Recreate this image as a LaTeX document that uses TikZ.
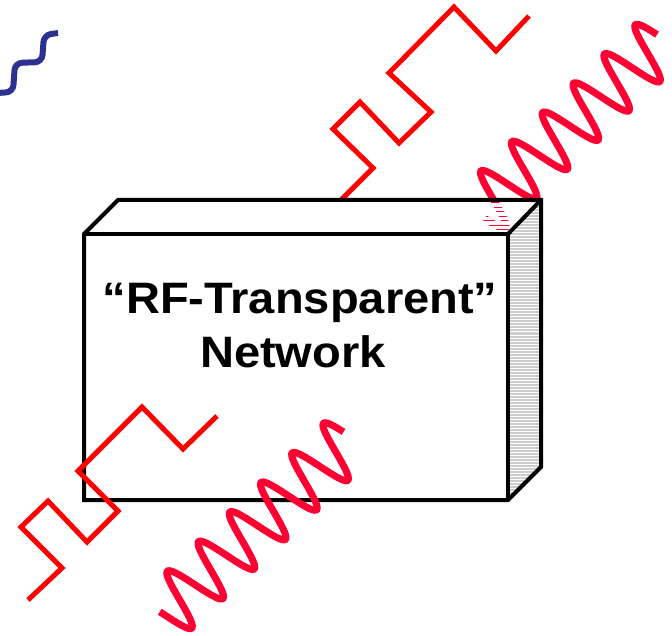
\documentclass[tikz,border=0pt]{standalone}
\usepackage{fontspec}
\newfontfamily\netfont[FakeStretch=1.07]{Liberation Sans}
\usepackage{xcolor}
\definecolor{waveRed}{HTML}{FF0033}
\definecolor{stepRed}{HTML}{FF0000}
\definecolor{waveBlue}{HTML}{2E3192}
\definecolor{sideGray}{HTML}{CCCCCC}

\tikzset{
  sinewave/.style={draw=waveRed, line width=7pt},
  squarewave/.style={draw=stepRed, line width=5pt, line join=miter},
  boxedge/.style={draw=black, line width=4pt, line join=miter},
  nettext/.style={anchor=base, inner sep=0pt, font=\netfont\bfseries\fontsize{44}{53}\selectfont},
}
\newcommand{\upperwave}[1][]{%
  \draw[sinewave,#1] plot[domain=-30:221.5, samples=220, variable=\s]
    ({501+0.726*\s-0.688*29*cos(8.4706*\s)}, {192-0.688*\s-0.726*29*cos(8.4706*\s)});}

\begin{document}
\begin{tikzpicture}[x=1pt, y=-1pt]
\useasboundingbox (0,0) rectangle (672,636);

% waves behind the box
\upperwave
\draw[squarewave] (340,201) -- (373,168) -- (333,129) -- (360,102) -- (399,143)
  -- (431,112) -- (389,73) -- (454,7) -- (496,51) -- (529,16);
\draw[waveBlue, line width=6pt, rounded corners=7pt]
  (-3,93) -- (13,92) -- (15,63) -- (42,62) -- (44,35) -- (58,33);

% the box
\fill[white] (84,234) -- (118,200) -- (541,200) -- (508,234) -- (508,500) -- (84,500) -- cycle;
\fill[sideGray] (508,234) -- (541,200) -- (541,467) -- (508,500) -- cycle;
\begin{scope}
  \clip (508,234) -- (541,200) -- (541,467) -- (508,500) -- cycle;
  \foreach \y in {200,203,...,500}
    \draw[white, line width=1pt] (505,\y) -- (545,\y);
\end{scope}
\begin{scope}
  \clip (84,234) -- (118,200) -- (541,200) -- (508,234) -- cycle;
  \upperwave
  \foreach \y in {200.5,205,...,237}
    \draw[white, line width=3.2pt] (80,\y) -- (545,\y);
\end{scope}
\draw[boxedge] (84,234) -- (118,200) -- (541,200) -- (541,467) -- (508,500) -- (84,500) -- cycle;
\draw[boxedge] (84,234) -- (508,234) -- (508,500);
\draw[boxedge] (508,234) -- (541,200);

\node[nettext] (title) at (300,314) {“RF-Transparent”};
\node[nettext] (subtitle) at (293,367) {Network};

% waves in front of the box
\draw[squarewave] (28,600) -- (62,568) -- (21,527) -- (48,501) -- (87,542)
  -- (118,511) -- (78,471) -- (142,407) -- (183,449) -- (217,416);
\draw[sinewave] plot[domain=-130:127, samples=220, variable=\s]
  ({257.5+0.726*\s-0.688*29*cos(8.3721*(\s+10.6))}, {525.8-0.688*\s-0.726*29*cos(8.3721*(\s+10.6))});
\end{tikzpicture}
\end{document}
